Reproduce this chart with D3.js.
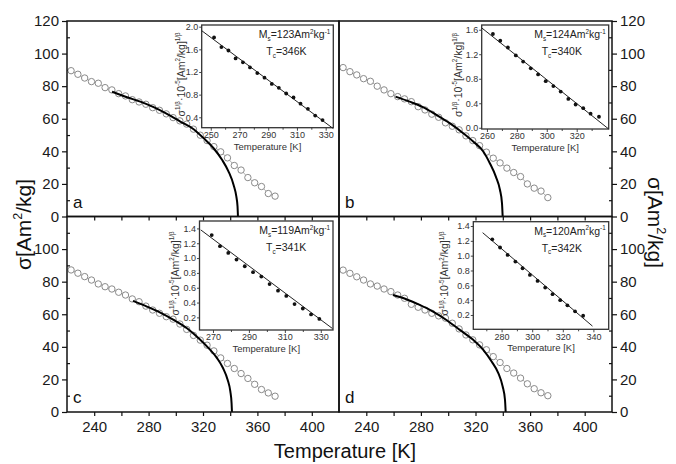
<!DOCTYPE html>
<html>
<head>
<meta charset="utf-8">
<script src="https://cdn.jsdelivr.net/npm/d3@7"></script>
<style>
  body { margin: 0; background: #fff; }
  svg { display: block; font-family: "Liberation Sans", Arial, sans-serif; }
</style>
</head>
<body>
<svg id="chart" width="676" height="464"></svg>
<script>
// ---- main panels: sigma vs T (open circles) ----
const circleTemps = [223,228,233,238,243,248,253,258,263,268,273,278,283,288,293,298,303,308,313,318,323,328,333,338,343,348,353,358,363,368,373];
const sigmaA = [89.5,87.3,85.0,82.8,81.8,79.1,77.7,75.4,74.0,71.7,70.3,68.9,66.8,65.2,63.0,60.7,58.7,56.7,53.6,49.9,46.6,42.9,39.7,36.0,31.3,28.5,23.9,20.7,18.4,14.1,12.5];
const sigmaB = [91.4,88.9,86.9,84.6,83.0,80.0,77.7,75.4,73.6,72.2,70.5,67.4,65.4,62.8,60.9,57.5,55.4,53.2,49.5,46.6,43.5,39.5,35.8,32.9,29.7,27.0,24.5,20.0,17.4,15.6,11.6];
const sigmaC = [87.2,85.2,83.1,81.0,78.6,76.9,75.5,73.5,71.8,69.4,67.7,65.0,62.6,60.6,58.5,57.0,54.0,50.7,47.0,44.1,41.0,37.5,33.2,29.8,26.7,23.6,20.6,17.0,13.8,11.7,9.7];
const sigmaD = [87.1,85.1,83.0,81.0,78.6,77.3,75.5,73.9,71.8,69.8,66.1,64.3,62.6,60.6,59.0,57.6,54.5,51.0,47.3,44.3,41.2,38.2,34.0,30.4,26.7,23.9,20.8,17.3,14.3,11.8,10.0];

// fitted curves (thick black)
const curveA_T = [253.1,264.1,273.9,283.7,293.5,303.3,313.1,320.4,327.8,334.0,338.8,342.5,344.5,345.4,345.7];
const curveA_S = [76.6,73.2,70.5,67.1,63.0,58.3,53.6,48.1,41.9,34.8,27.6,19.4,12.3,6.1,0];
const curveB_T = [261.4,271.7,281.5,291.3,301.1,311.0,318.3,325.7,330.5,334.9,337.9,339.4,339.9];
const curveB_S = [73.6,70.5,67.1,62.4,57.3,51.1,46.0,39.9,32.7,24.5,16.4,8.2,0];
const curveC_T = [268.5,278.8,288.6,298.4,308.2,316.8,324.1,330.3,334.7,338.1,340.1,341.0,341.3];
const curveC_S = [68.2,64.7,61.0,56.5,51.4,45.3,39.2,33.1,27.0,19.8,12.6,5.5,0];
const curveD_T = [259.5,269.3,279.1,288.9,298.7,308.5,318.3,325.7,331.8,336.7,339.9,341.6,342.1];
const curveD_S = [71.8,69.2,65.7,61.6,56.5,50.4,44.3,38.2,31.0,23.9,15.7,7.5,0];

// ---- insets: sigma^(1/beta) vs T ----
const insetA_T = [252.3,257.4,262.3,267.3,272.4,277.3,282.4,287.4,292.5,297.4,302.5,307.6,312.5,317.6,322.7,327.8];
const insetA_Y = [1.81,1.64,1.58,1.44,1.37,1.28,1.18,1.10,0.99,0.92,0.82,0.75,0.64,0.55,0.43,0.35];
const insetB_T = [264,268.9,274,279.3,284.2,289.3,294.2,299.3,304.4,309.3,314.4,319.3,324.4,329.3,334.9];
const insetB_Y = [1.53,1.42,1.31,1.18,1.08,0.97,0.87,0.76,0.68,0.59,0.47,0.38,0.32,0.23,0.18];
const insetC_T = [269.3,273.9,278.5,283.1,287.7,292.3,296.9,301.5,306.2,310.8,315.4,320.0,324.6,329.2];
const insetC_Y = [1.31,1.16,1.07,0.98,0.89,0.81,0.75,0.65,0.56,0.49,0.38,0.32,0.24,0.18];
const insetD_T = [273.9,279,283.9,289,293.7,298.5,303.5,308.5,313.3,318.3,323,328,333.3];
const insetD_Y = [1.22,1.11,1.01,0.92,0.83,0.74,0.66,0.57,0.48,0.40,0.33,0.25,0.19];

// linear fits (end points)
const fitA = [[243.7,1.93],[335.3,0.20]];
const fitB = [[256.5,1.63],[341.4,-0.02]];
const fitC = [[263.2,1.38],[336.5,0.05]];
const fitD = [[267.6,1.31],[339.4,0.05]];

const msValues = [123, 124, 119, 120];
const tcValues = [346, 340, 341, 342];
const panelLetters = ["a", "b", "c", "d"];

// tick labels
const xTicks = [240, 260, 280, 300, 320, 340, 360, 380, 400];
const xTickLabels = [240, 280, 320, 360, 400];
const yTicks = [0, 20, 40, 60, 80, 100, 120];
const yMinorTicks = [10, 30, 50, 70, 90, 110];

const svg = d3.select("#chart");

// layout
const L = 67, M = 339, R = 612, T0 = 21, MY = 216.5, B = 412;

const panels = [
  { x0: L, x1: M, y0: T0, y1: MY, side: "left",  bottomLabels: false, topPanel: true,
    sigma: sigmaA, cT: curveA_T, cS: curveA_S,
    inset: { box: [201.7, 25, 333.3, 127.7], xd: [243.7, 335.3], yd: [0.216, 2.03],
      xt: [250, 270, 290, 310, 330], xm: [260, 280, 300, 320], yt: [0.4, 0.8, 1.2, 1.6, 2.0],
      T: insetA_T, Y: insetA_Y, fit: fitA, labOff: 17 } },
  { x0: M, x1: R, y0: T0, y1: MY, side: "right", bottomLabels: false, topPanel: true,
    sigma: sigmaB, cT: curveB_T, cS: curveB_S,
    inset: { box: [481.7, 25, 608.7, 129], xd: [256.5, 341.4], yd: [-0.02, 1.677],
      xt: [260, 280, 300, 320], xm: [270, 290, 310, 330], yt: [0, 0.4, 0.8, 1.2, 1.6],
      T: insetB_T, Y: insetB_Y, fit: fitB, labOff: 20 } },
  { x0: L, x1: M, y0: MY, y1: B, side: "left",  bottomLabels: true, topPanel: false,
    sigma: sigmaC, cT: curveC_T, cS: curveC_S,
    inset: { box: [199.5, 221, 333, 330], xd: [262.5, 336.8], yd: [0.03, 1.5],
      xt: [270, 290, 310, 330], xm: [280, 300, 320], yt: [0.2, 0.4, 0.6, 0.8, 1.0, 1.2, 1.4],
      T: insetC_T, Y: insetC_Y, fit: fitC, labOff: 21 } },
  { x0: M, x1: R, y0: MY, y1: B, side: "right", bottomLabels: true, topPanel: false,
    sigma: sigmaD, cT: curveD_T, cS: curveD_S,
    inset: { box: [473.3, 221.7, 608.7, 329.3], xd: [261.5, 350], yd: [0.007, 1.458],
      xt: [280, 300, 320, 340], xm: [270, 290, 310, 330], yt: [0.2, 0.4, 0.6, 0.8, 1.0, 1.2, 1.4],
      T: insetD_T, Y: insetD_Y, fit: fitD, labOff: 25 } }
];

// write text with sub/superscripts: parts = [[text, "n"|"sup"|"sub"], ...]
function richText(sel, parts, size) {
  let shift = 0;
  parts.forEach(([str, kind]) => {
    const target = kind === "sup" ? -0.42 * size : kind === "sub" ? 0.25 * size : 0;
    sel.append("tspan")
      .attr("dy", target - shift)
      .attr("font-size", kind === "n" ? size : size * 0.6)
      .text(str);
    shift = target;
  });
}

function styleAxis(g, fontSize) {
  g.select(".domain").remove();
  g.selectAll("line").attr("stroke", "#111").attr("stroke-width", 1.2);
  g.selectAll("text").attr("font-size", fontSize).attr("fill", "#1a1a1a")
    .attr("font-family", "'Liberation Sans', Arial, sans-serif");
}

panels.forEach((p, i) => {
  const x = d3.scaleLinear().domain([220, 420]).range([p.x0, p.x1]);
  const y = d3.scaleLinear().domain([0, 120]).range([p.y1, p.y0]);

  // bottom ticks
  const gx = svg.append("g").attr("transform", `translate(0,${p.y1})`)
    .call(d3.axisBottom(x).tickValues(xTicks).tickSize(4).tickPadding(5)
      .tickFormat(d => p.bottomLabels && xTickLabels.includes(d) ? d : ""));
  styleAxis(gx, 15);

  // y ticks
  const labTicks = p.topPanel ? yTicks : yTicks.filter(d => d < 120);
  if (p.side === "left") {
    const gy = svg.append("g").attr("transform", `translate(${p.x0},0)`)
      .call(d3.axisLeft(y).tickValues(labTicks).tickSize(5).tickPadding(3));
    styleAxis(gy, 15);
    const gm = svg.append("g").attr("transform", `translate(${p.x0},0)`)
      .call(d3.axisLeft(y).tickValues(yMinorTicks).tickSize(-3).tickFormat(""));
    styleAxis(gm, 15);
  } else {
    const gy = svg.append("g").attr("transform", `translate(${p.x1},0)`)
      .call(d3.axisRight(y).tickValues(labTicks).tickSize(5).tickPadding(3));
    styleAxis(gy, 15);
    const gm = svg.append("g").attr("transform", `translate(${p.x1},0)`)
      .call(d3.axisRight(y).tickValues(yMinorTicks).tickSize(-3).tickFormat(""));
    styleAxis(gm, 15);
  }

  // open circles with thin connecting line
  const pts = circleTemps.map((t, k) => [t, p.sigma[k]]);
  svg.append("path")
    .datum(pts)
    .attr("fill", "none")
    .attr("stroke", "#9a9a9a")
    .attr("stroke-width", 0.8)
    .attr("d", d3.line().x(d => x(d[0])).y(d => y(d[1])));
  svg.append("g").selectAll("circle")
    .data(pts)
    .enter()
    .append("circle")
    .attr("cx", d => x(d[0]))
    .attr("cy", d => y(d[1]))
    .attr("r", 3.2)
    .attr("fill", "#fff")
    .attr("stroke", "#8a8a8a")
    .attr("stroke-width", 1);

  // fitted curve
  const cpts = p.cT.map((t, k) => [t, p.cS[k]]);
  svg.append("path")
    .datum(cpts)
    .attr("fill", "none")
    .attr("stroke", "#000")
    .attr("stroke-width", 2)
    .attr("d", d3.line().curve(d3.curveMonotoneX).x(d => x(d[0])).y(d => y(d[1])));

  // panel letter
  svg.append("text")
    .attr("x", p.x0 + 6)
    .attr("y", p.y1 - 9)
    .attr("font-size", 17)
    .attr("fill", "#111")
    .text(panelLetters[i]);

  // ---- inset ----
  const ins = p.inset;
  const [bx0, by0, bx1, by1] = ins.box;
  const ix = d3.scaleLinear().domain(ins.xd).range([bx0, bx1]);
  const iy = d3.scaleLinear().domain(ins.yd).range([by1, by0]);

  svg.append("rect")
    .attr("x", bx0).attr("y", by0)
    .attr("width", bx1 - bx0).attr("height", by1 - by0)
    .attr("fill", "#fff")
    .attr("stroke", "#333")
    .attr("stroke-width", 1.3);

  const ixa = svg.append("g").attr("transform", `translate(0,${by1})`)
    .call(d3.axisBottom(ix).tickValues(ins.xt).tickSize(3).tickPadding(1).tickFormat(d3.format("d")));
  styleAxis(ixa, 9);
  const ixm = svg.append("g").attr("transform", `translate(0,${by1})`)
    .call(d3.axisBottom(ix).tickValues(ins.xm).tickSize(2).tickFormat(""));
  styleAxis(ixm, 9);
  const iya = svg.append("g").attr("transform", `translate(${bx0},0)`)
    .call(d3.axisLeft(iy).tickValues(ins.yt).tickSize(2.5).tickPadding(1).tickFormat(d3.format(".1f")));
  styleAxis(iya, 9);
  [ixa, ixm, iya].forEach(g => g.selectAll("line").attr("stroke-width", 0.9).attr("stroke", "#333"));
  [ixa, iya].forEach(g => g.selectAll("text").attr("fill", "#333"));

  svg.append("path")
    .datum(ins.fit)
    .attr("fill", "none")
    .attr("stroke", "#222")
    .attr("stroke-width", 1)
    .attr("d", d3.line().x(d => ix(d[0])).y(d => iy(d[1])));

  svg.append("g").selectAll("circle")
    .data(ins.T.map((t, k) => [t, ins.Y[k]]))
    .enter()
    .append("circle")
    .attr("cx", d => ix(d[0]))
    .attr("cy", d => iy(d[1]))
    .attr("r", 1.9)
    .attr("fill", "#111");

  // inset axis titles
  svg.append("text")
    .attr("x", (bx0 + bx1) / 2)
    .attr("y", by1 + 22)
    .attr("text-anchor", "middle")
    .attr("font-size", 9.5)
    .attr("fill", "#333")
    .text("Temperature [K]");

  const yl = svg.append("text")
    .attr("transform", `translate(${bx0 - ins.labOff},${(by0 + by1) / 2 - 2}) rotate(-90)`)
    .attr("text-anchor", "middle")
    .attr("fill", "#333");
  richText(yl, [["σ", "n"], ["1/β", "sup"], ["·10", "n"], ["-5", "sup"], ["[Am", "n"], ["2", "sup"], ["/kg]", "n"], ["1/β", "sup"]], 10.5);

  // Ms / Tc annotation
  const ms = svg.append("text")
    .attr("x", bx1 - 3)
    .attr("y", by0 + 13)
    .attr("text-anchor", "end")
    .attr("fill", "#222");
  richText(ms, [["M", "n"], ["s", "sub"], [`=${msValues[i]}Am`, "n"], ["2", "sup"], ["kg", "n"], ["-1", "sup"]], 10.5);
  const tc = svg.append("text")
    .attr("x", bx1 - 67)
    .attr("y", by0 + 30)
    .attr("fill", "#222");
  richText(tc, [["T", "n"], ["c", "sub"], [`=${tcValues[i]}K`, "n"]], 10.5);
});

// panel frames
panels.forEach(p => {
  svg.append("rect")
    .attr("x", p.x0).attr("y", p.y0)
    .attr("width", p.x1 - p.x0).attr("height", p.y1 - p.y0)
    .attr("fill", "none")
    .attr("stroke", "#111")
    .attr("stroke-width", 1.5);
});

// axis titles
svg.append("text")
  .attr("x", 345)
  .attr("y", 458)
  .attr("text-anchor", "middle")
  .attr("font-size", 20)
  .attr("fill", "#111")
  .text("Temperature [K]");

const ylL = svg.append("text")
  .attr("transform", `translate(31,${(T0 + B) / 2 + 8}) rotate(-90)`)
  .attr("text-anchor", "middle")
  .attr("fill", "#111");
richText(ylL, [["σ[Am", "n"], ["2", "sup"], ["/kg]", "n"]], 21);

const ylR = svg.append("text")
  .attr("transform", `translate(648,${(T0 + B) / 2 + 6}) rotate(90)`)
  .attr("text-anchor", "middle")
  .attr("fill", "#111");
richText(ylR, [["σ[Am", "n"], ["2", "sup"], ["/kg]", "n"]], 21);
</script>
</body>
</html>
